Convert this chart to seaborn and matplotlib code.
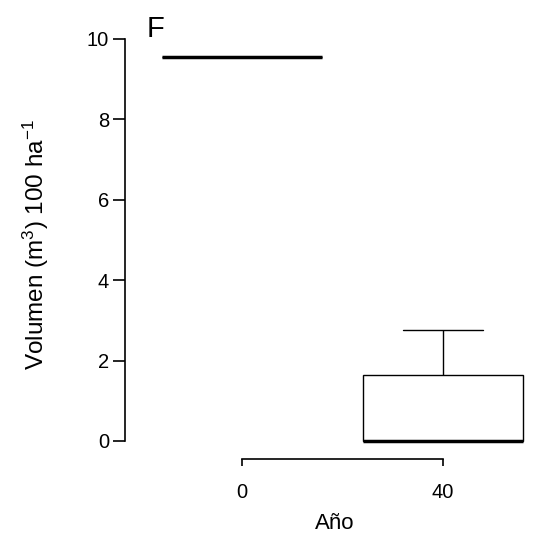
import pandas as pd
import numpy as np
import matplotlib.pyplot as plt
import seaborn as sns

sns.set_style('ticks')
plt.rcParams['font.family'] = ['Liberation Sans', 'DejaVu Sans']
plt.rcParams['mathtext.default'] = 'regular'
plt.rcParams['text.color'] = 'black'
plt.rcParams['axes.labelcolor'] = 'black'
plt.rcParams['xtick.color'] = 'black'
plt.rcParams['ytick.color'] = 'black'

# data (volume per plot, by year)
years = ['0', '40']
vol_year0 = [9.55, 9.55, 9.55, 9.55, 9.55]
vol_year40 = [0, 0, 0, 0, 0, 0, 1.64, 1.64, 2.76]

df = pd.DataFrame({
    'Año': ['0'] * len(vol_year0) + ['40'] * len(vol_year40),
    'Volumen': vol_year0 + vol_year40,
})

fig = plt.figure(figsize=(5.51, 5.36), dpi=100)
ax = fig.add_axes([125 / 551, (536 - 459) / 536, 420 / 551, (459 - 30) / 536])

sns.boxplot(data=df, x='Año', y='Volumen', order=years, ax=ax,
            color='white', linecolor='black', linewidth=1, width=0.8,
            fliersize=0, whis=1.5,
            medianprops={'linewidth': 2.5, 'solid_capstyle': 'butt'})

ax.set_xlim((125 - 242) / 201, (545 - 242) / 201)
ax.set_ylim((441 - 459) / 40.2, (441 - 30) / 40.2)

ax.spines['top'].set_visible(False)
ax.spines['right'].set_visible(False)
ax.spines['left'].set_bounds(0, 10)
ax.spines['bottom'].set_bounds(0, 1)
ax.spines['left'].set_linewidth(1.2)
ax.spines['bottom'].set_linewidth(1.2)
ax.spines['left'].set_color('black')
ax.spines['bottom'].set_color('black')

ax.set_yticks([0, 2, 4, 6, 8, 10])
ax.tick_params(axis='y', length=8.6, width=1.2, pad=3, labelsize=14.5)
ax.tick_params(axis='x', length=5, width=1.2, pad=12, labelsize=14.5)

ax.set_xlabel('Año', fontsize=16, labelpad=8)
ax.set_ylabel('Volumen (m$^3$) 100 ha$^{-1}$', fontsize=17.5, labelpad=26)

fig.text(147 / 551, 1 - 15 / 536, 'F', fontsize=21, va='top', ha='left')

plt.savefig('out.png', dpi=100)
